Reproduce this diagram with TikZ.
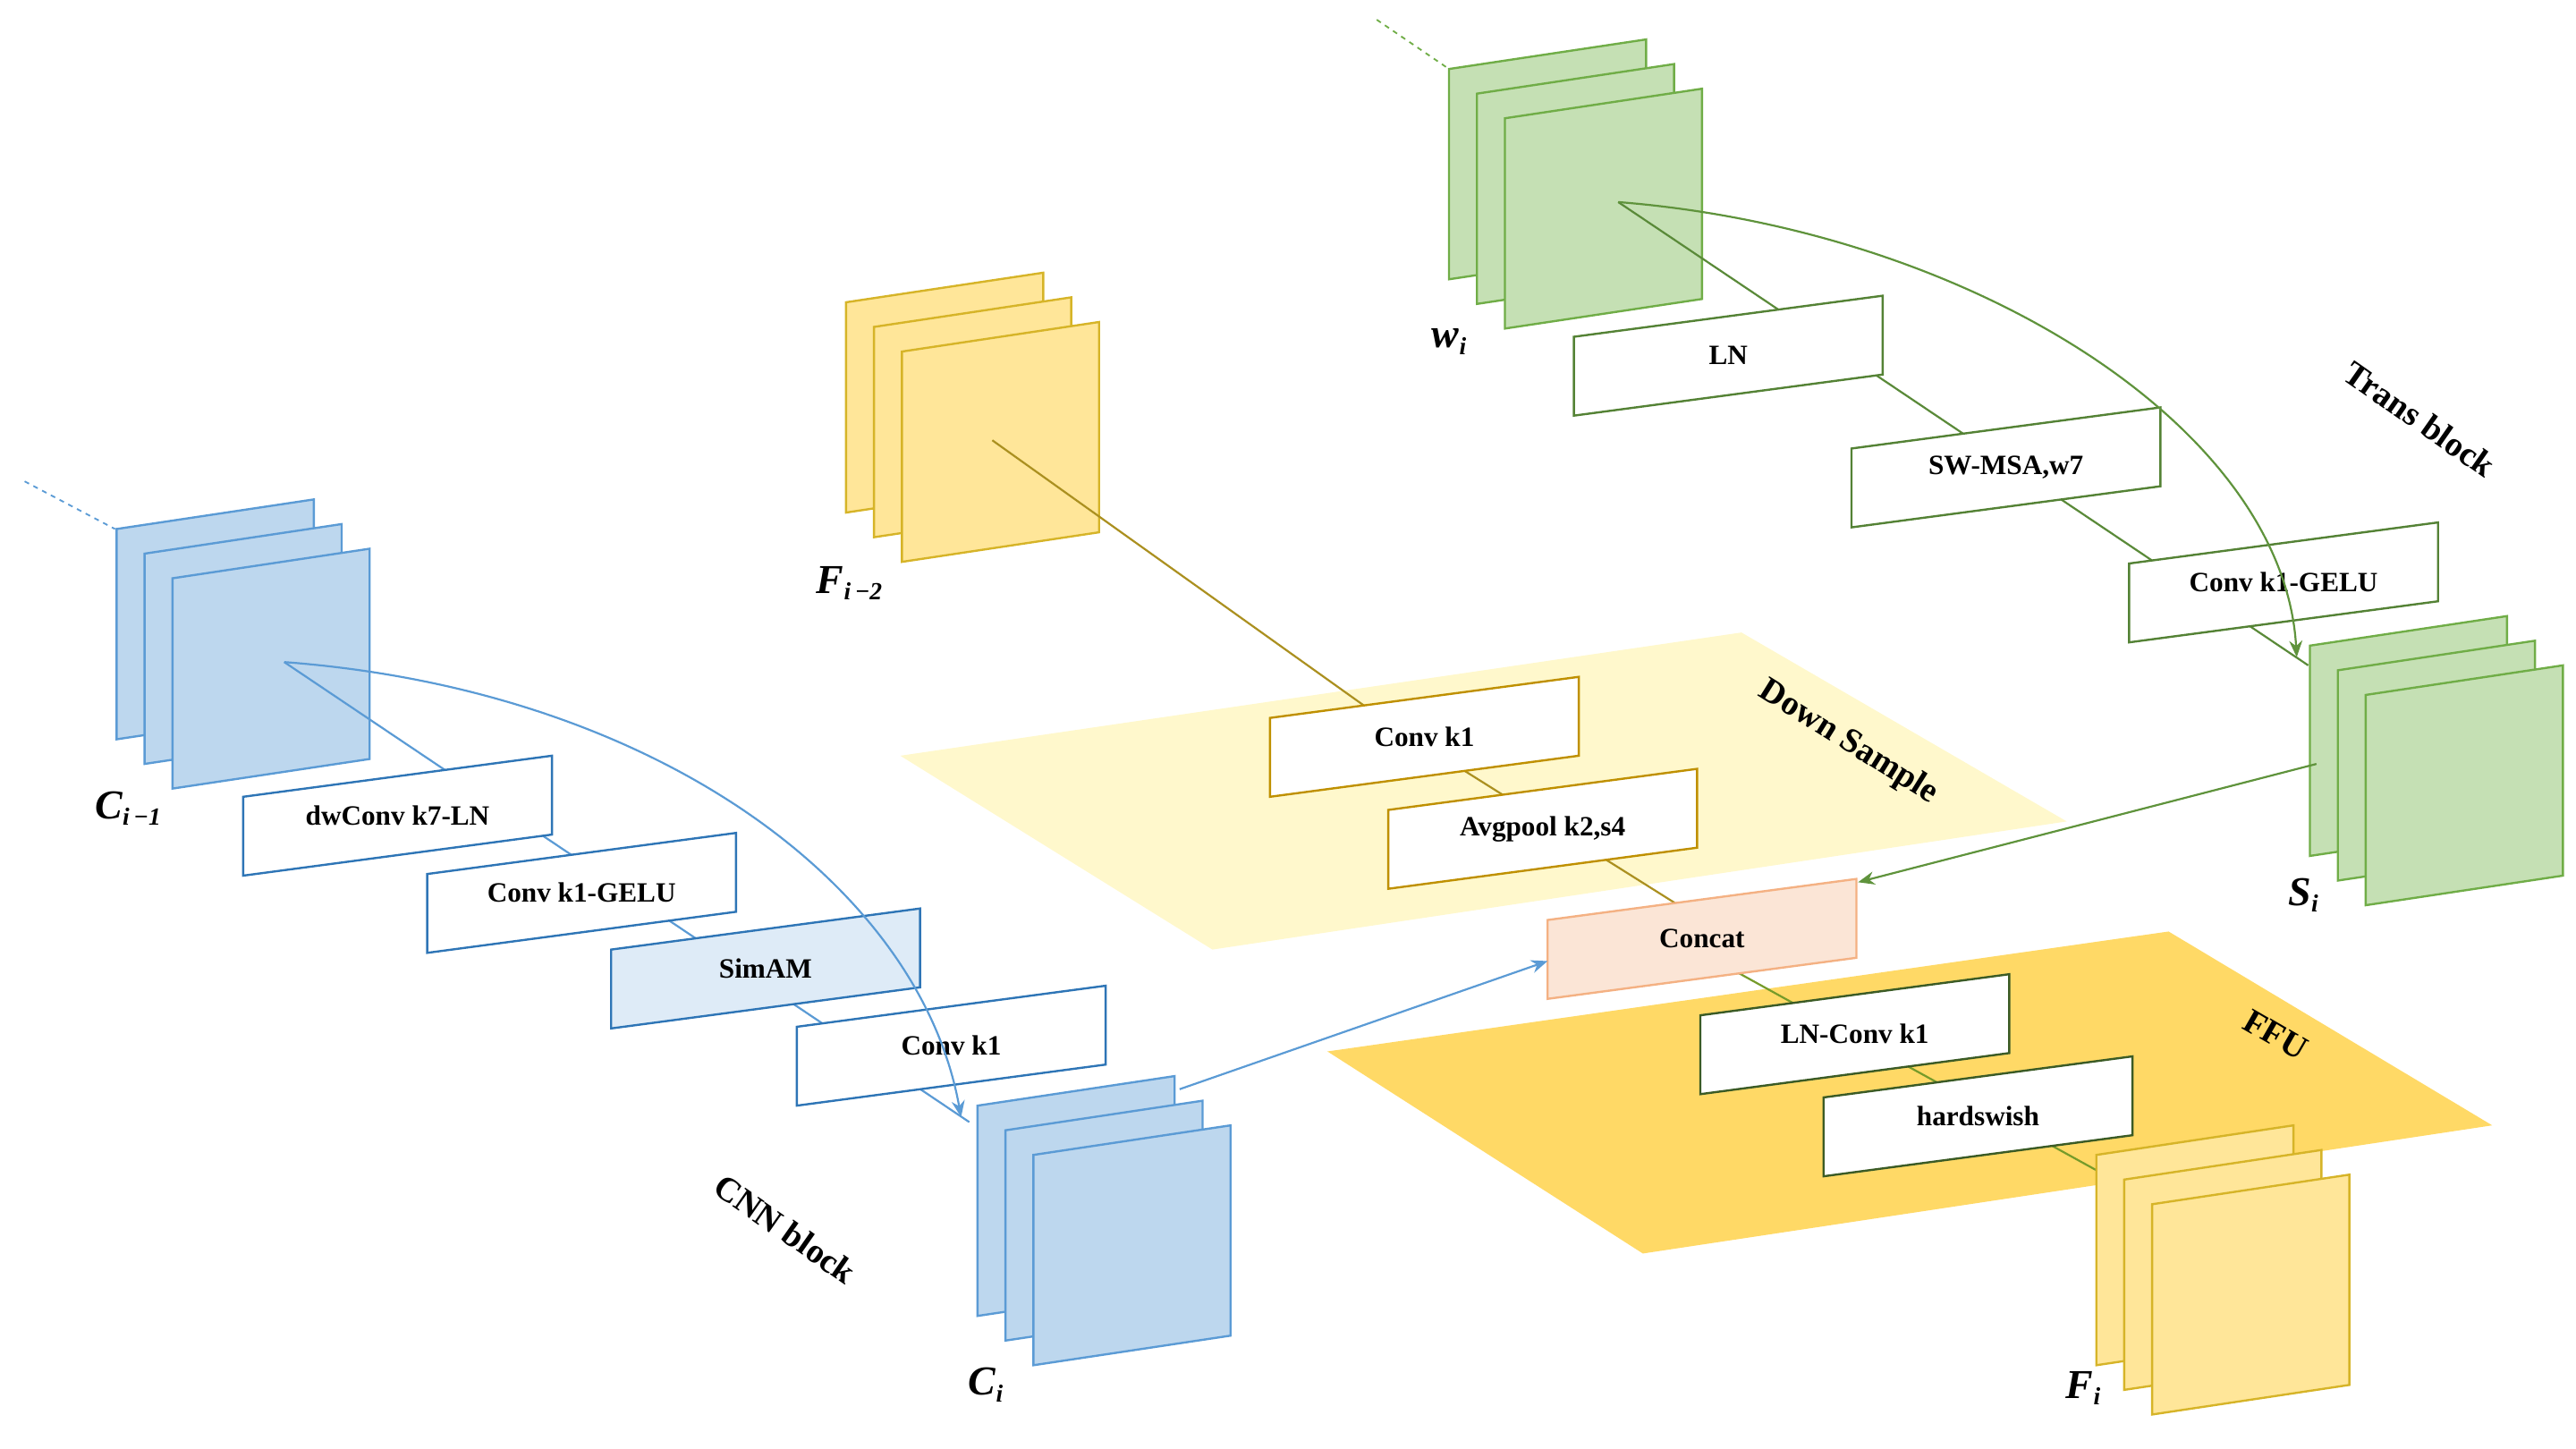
\documentclass[tikz,border=0pt]{standalone}
\usepackage{fontspec}
\setmainfont{Liberation Serif}
\usetikzlibrary{arrows.meta}
\definecolor{bfill}{RGB}{189,215,238}\definecolor{bdraw}{RGB}{91,155,213}
\definecolor{bbox}{RGB}{46,117,182}\definecolor{blfill}{RGB}{222,235,247}
\definecolor{gfill}{RGB}{197,224,180}\definecolor{gdraw}{RGB}{112,173,71}
\definecolor{gbox}{RGB}{84,130,53}
\definecolor{yfill}{RGB}{255,230,153}\definecolor{ydraw}{RGB}{214,180,40}
\definecolor{ybox}{RGB}{191,144,0}
\definecolor{dsfill}{RGB}{255,248,204}\definecolor{fffill}{RGB}{255,217,102}
\definecolor{cfill}{RGB}{251,229,214}\definecolor{cdraw}{RGB}{244,177,131}
\newcommand\skbox[7]{% name x y fill draw text h
  \path[fill=#4,draw=#5,line width=1.3pt] (#2,#3) -- ++(188,-25) -- ++(0,#7) -- ++(-188,25) -- cycle;
  \node[font=\bfseries\fontsize{17}{20}\selectfont] (#1) at (#2+94,#3-12.5+#7/2) {#6};}
\newcommand\sheet[5]{\path[fill=#4,draw=#5,line width=1.3pt] (#1,#2) -- ++(120,-18) -- ++(0,#3) -- ++(-120,18) -- cycle;}
\newcommand\stk[6]{% name x y H fill draw
  \sheet{#2-34}{#3-30}{#4}{#5}{#6}\sheet{#2-17}{#3-15}{#4}{#5}{#6}\sheet{#2}{#3}{#4}{#5}{#6}
  \coordinate (#1) at (#2+60,#3+#4/2-9);}
\newcommand\sub[1]{\raisebox{-0.35ex}{\fontsize{15}{16}\selectfont #1}}
\begin{document}
\begin{tikzpicture}[x=1pt,y=-1pt,
  lab/.style={font=\bfseries\itshape\fontsize{25}{28}\selectfont},
  rlab/.style={font=\bfseries\fontsize{21}{24}\selectfont},
  arr/.style={line width=1.2pt,-{Stealth[length=10pt,width=8pt]}}]
\useasboundingbox (0,0) rectangle (1568,882);
% planes
\fill[dsfill] (548,460) -- (1060,385) -- (1258,500) -- (738,578) -- cycle;
\fill[fffill] (808,640) -- (1320,567) -- (1517,685) -- (1000,763) -- cycle;
% dashed leads
\draw[bdraw,dashed,line width=1pt] (15,293) -- (70,322);
\draw[gdraw,dashed,line width=1pt] (838,12) -- (882,42);
% coordinates for connectors
\coordinate (bc) at (173,403); \coordinate (gc) at (985,123); \coordinate (yc) at (604,268);
% stacks (top-left of front sheet)
\stk{Cprev}{105}{352}{128}{bfill}{bdraw}
\stk{W}{916}{72}{128}{gfill}{gdraw}
\stk{Fprev}{549}{214}{128}{yfill}{ydraw}
% connector lines behind boxes
\draw[bdraw,line width=1.2pt] (bc) -- (590,683);
\draw[gdraw!80!black,line width=1.2pt] (gc) -- (1405,405);
\draw[ydraw!80!black,line width=1.2pt] (yc) -- (845,440);
\draw[ydraw!80!black,line width=1.2pt] (845,440) -- (1036,560);
\draw[gbox!80!yellow,line width=1.2pt] (1036,580) -- (1290,720);
% boxes
\skbox{b1}{148}{485}{white}{bbox}{dwConv k7-LN}{48}
\skbox{b2}{260}{532}{white}{bbox}{Conv k1-GELU}{48}
\skbox{b3}{372}{578}{blfill}{bbox}{SimAM}{48}
\skbox{b4}{485}{625}{white}{bbox}{Conv k1}{48}
\skbox{g1}{958}{205}{white}{gbox}{LN}{48}
\skbox{g2}{1127}{273}{white}{gbox}{SW-MSA,w7}{48}
\skbox{g3}{1296}{343}{white}{gbox}{Conv k1-GELU}{48}
\skbox{d1}{773}{437}{white}{ybox}{Conv k1}{48}
\skbox{d2}{845}{493}{white}{ybox}{Avgpool k2,s4}{48}
\skbox{cc}{942}{560}{cfill}{cdraw}{Concat}{48}
\skbox{f1}{1035}{618}{white}{gbox!70!black}{LN-Conv k1}{48}
\skbox{f2}{1110}{668}{white}{gbox!70!black}{hardswish}{48}
% lower stacks
\stk{S}{1440}{423}{128}{gfill}{gdraw}
\stk{C}{629}{703}{128}{bfill}{bdraw}
\stk{F}{1310}{733}{128}{yfill}{ydraw}
% arrows
\draw[arr,bdraw] (bc) .. controls (400,420) and (560,540) .. (585,680);
\draw[arr,gdraw!85!black] (gc) .. controls (1200,140) and (1390,260) .. (1398,400);
\draw[arr,bdraw] (718,663) -- (942,585);
\draw[arr,gdraw!85!black] (1410,465) -- (1131,537);
% labels
\node[lab] at (78,492) {C\sub{\textit{i}\,−1}};
\node[lab] at (517,355) {F\sub{\textit{i}\,−2}};
\node[lab] at (882,208) {w\sub{i}};
\node[lab] at (1402,545) {S\sub{i}};
\node[lab] at (600,843) {C\sub{i}};
\node[lab] at (1268,845) {F\sub{i}};
\node[rlab,rotate=-35] at (1473,255) {Trans block};
\node[rlab,rotate=-32] at (1125,452) {Down Sample};
\node[rlab,rotate=-30] at (1385,630) {FFU};
\node[rlab,rotate=-35] at (478,748) {CNN block};
\end{tikzpicture}
\end{document}
